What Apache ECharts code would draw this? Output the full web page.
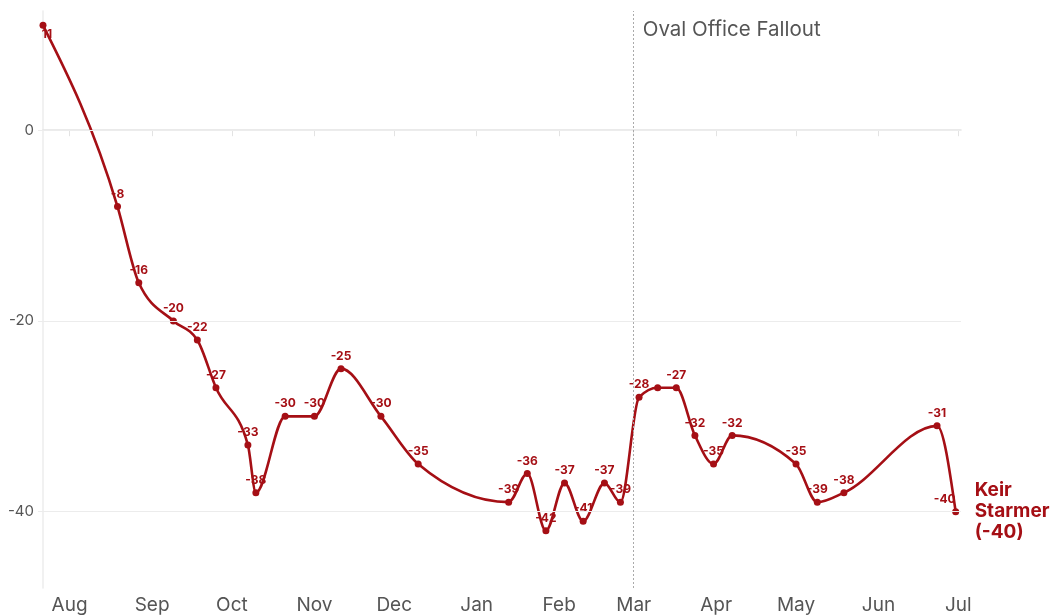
<!DOCTYPE html>
<html>
<head>
<meta charset="utf-8">
<title>Keir Starmer net approval</title>
<script src="https://cdn.jsdelivr.net/npm/echarts@6/dist/echarts.min.js"></script>
<style>
  html, body { margin: 0; padding: 0; background: #fff; }
  #chart { width: 1054px; height: 616px; }
</style>
</head>
<body>
<div id="chart"></div>
<script>
  // poll dates and net ratings
  var pollDates = [
    '2024-07-22', '2024-08-19', '2024-08-27', '2024-09-09', '2024-09-18', '2024-09-25',
    '2024-10-07', '2024-10-10', '2024-10-21', '2024-11-01', '2024-11-11', '2024-11-26',
    '2024-12-10', '2025-01-13', '2025-01-20', '2025-01-27', '2025-02-03', '2025-02-10',
    '2025-02-18', '2025-02-24', '2025-03-03', '2025-03-10', '2025-03-17', '2025-03-24',
    '2025-03-31', '2025-04-07', '2025-05-01', '2025-05-09', '2025-05-19', '2025-06-23',
    '2025-06-30'
  ];
  var netRatings = [
    11, -8, -16, -20, -22, -27,
    -33, -38, -30, -30, -25, -30,
    -35, -39, -36, -42, -37, -41,
    -37, -39, -28, -27, -27, -32,
    -35, -32, -35, -39, -38, -31,
    -40
  ];
  // points whose value label is hidden in the original
  var hiddenLabels = [21];

  var monthTicks = [
    '2024-08-01', '2024-09-01', '2024-10-01', '2024-11-01', '2024-12-01', '2025-01-01',
    '2025-02-01', '2025-03-01', '2025-04-01', '2025-05-01', '2025-06-01', '2025-07-01'
  ];
  var monthLabels = ['Aug', 'Sep', 'Oct', 'Nov', 'Dec', 'Jan', 'Feb', 'Mar', 'Apr', 'May', 'Jun', 'Jul'];
  var yTicks = [-40, -20, 0];

  var eventDate = '2025-03-01';
  var eventName = 'Oval Office Fallout';
  var personName = 'Keir Starmer';

  var red = '#a50f15';
  var font = 'Inter, "Open Sans", sans-serif';

  function ts(s) {
    var p = s.split('-');
    return new Date(+p[0], p[1] - 1, +p[2]).getTime();
  }

  var tickTimes = monthTicks.map(ts);
  var points = pollDates.map(function (d, i) { return [ts(d), netRatings[i]]; });

  // monotone-x cubic path through pixel points (same as d3.curveMonotoneX)
  function monotonePath(px) {
    var n = px.length;
    if (n < 2) return '';
    function sgn(v) { return v < 0 ? -1 : 1; }
    var t = new Array(n);
    for (var i = 1; i < n - 1; i++) {
      var h0 = px[i][0] - px[i - 1][0], h1 = px[i + 1][0] - px[i][0];
      var s0 = h0 ? (px[i][1] - px[i - 1][1]) / h0 : 0;
      var s1 = h1 ? (px[i + 1][1] - px[i][1]) / h1 : 0;
      var p = (s0 * h1 + s1 * h0) / (h0 + h1);
      t[i] = (sgn(s0) + sgn(s1)) * Math.min(Math.abs(s0), Math.abs(s1), 0.5 * Math.abs(p)) || 0;
    }
    var hA = px[1][0] - px[0][0], sA = (px[1][1] - px[0][1]) / hA;
    var hB = px[n - 1][0] - px[n - 2][0], sB = (px[n - 1][1] - px[n - 2][1]) / hB;
    t[0] = n > 2 ? (3 * sA - t[1]) / 2 : sA;
    t[n - 1] = n > 2 ? (3 * sB - t[n - 2]) / 2 : sB;
    var d = 'M' + px[0][0] + ' ' + px[0][1];
    for (var j = 0; j < n - 1; j++) {
      var a = px[j], b = px[j + 1], dx = (b[0] - a[0]) / 3;
      d += ' C' + (a[0] + dx) + ' ' + (a[1] + dx * t[j]) + ' ' +
        (b[0] - dx) + ' ' + (b[1] - dx * t[j + 1]) + ' ' + b[0] + ' ' + b[1];
    }
    return d;
  }

  var labelData = points.map(function (pt, i) {
    var item = { value: pt };
    if (i === 0) {
      item.label = { position: 'bottom', offset: [4, -3] };
    } else if (i === points.length - 1) {
      item.label = { offset: [-11, 0] };
    } else if (hiddenLabels.indexOf(i) >= 0) {
      item.label = { show: false };
    }
    return item;
  });

  var lastPoint = points[points.length - 1];
  var endText = personName.split(' ').join('\n') + '\n(' + lastPoint[1] + ')';

  var chart = echarts.init(document.getElementById('chart'), null, { renderer: 'canvas' });

  chart.setOption({
    animation: false,
    backgroundColor: '#fff',
    textStyle: { fontFamily: font },
    grid: { left: 43, right: 93, top: 11, bottom: 28 },
    xAxis: {
      type: 'value',
      min: ts('2024-07-22'),
      max: ts('2025-07-02'),
      axisLine: { show: true, lineStyle: { color: '#e3e3e3', width: 1.5 } },
      axisTick: { show: true, customValues: tickTimes, length: 6, lineStyle: { color: '#e3e3e3' } },
      axisLabel: {
        customValues: tickTimes,
        color: '#555',
        fontSize: 19,
        fontFamily: font,
        margin: 8,
        formatter: function (v) {
          var idx = tickTimes.indexOf(v);
          return idx >= 0 ? monthLabels[idx] : '';
        }
      },
      splitLine: { show: false }
    },
    yAxis: {
      type: 'value',
      min: -48,
      max: 12.5,
      axisLine: { show: true, lineStyle: { color: '#ececec', width: 1.5 } },
      axisTick: { show: true, customValues: yTicks, length: 5, lineStyle: { color: '#ececec' } },
      axisLabel: { customValues: yTicks, color: '#555', fontSize: 15, fontFamily: font, margin: 9 },
      splitLine: { show: false }
    },
    series: [
      {
        // gridlines, the event marker and the name tag
        type: 'line',
        data: [],
        z: 1,
        silent: true,
        markLine: {
          silent: true,
          symbol: 'none',
          animation: false,
          label: { show: false },
          data: yTicks.map(function (v) {
            return { yAxis: v, lineStyle: { color: '#ececec', width: 1, type: 'solid' } };
          }).concat([
            { xAxis: ts(eventDate), lineStyle: { color: '#aaa', width: 1, type: [2, 2] } }
          ])
        },
        markPoint: {
          silent: true,
          symbol: 'circle',
          symbolSize: 0,
          data: [
            {
              coord: [ts(eventDate), 10.5],
              label: {
                show: true, position: 'right', distance: 9, formatter: eventName,
                color: '#555', fontSize: 20.5, fontFamily: font
              }
            },
            {
              coord: lastPoint,
              label: {
                show: true, position: 'right', distance: 19, formatter: endText,
                color: red, fontSize: 19, fontWeight: 'bold', fontFamily: font, lineHeight: 21
              }
            }
          ]
        }
      },
      {
        // the smooth line itself
        type: 'custom',
        z: 2,
        silent: true,
        clip: false,
        data: points,
        renderItem: function (params, api) {
          if (params.dataIndex !== 0) return null;
          var px = points.map(function (pt) { return api.coord(pt); });
          return {
            type: 'path',
            shape: { pathData: monotonePath(px) },
            style: { fill: null, stroke: red, lineWidth: 2.6, lineJoin: 'round', lineCap: 'round' }
          };
        }
      },
      {
        // dots and value labels
        type: 'scatter',
        z: 4,
        clip: false,
        data: labelData,
        symbol: 'circle',
        symbolSize: 7,
        itemStyle: { color: red, opacity: 1 },
        label: {
          show: true,
          position: 'top',
          distance: 3,
          color: red,
          fontSize: 12,
          fontWeight: 'bold',
          fontFamily: font,
          formatter: function (p) { return p.value[1]; }
        }
      }
    ]
  });
</script>
</body>
</html>
